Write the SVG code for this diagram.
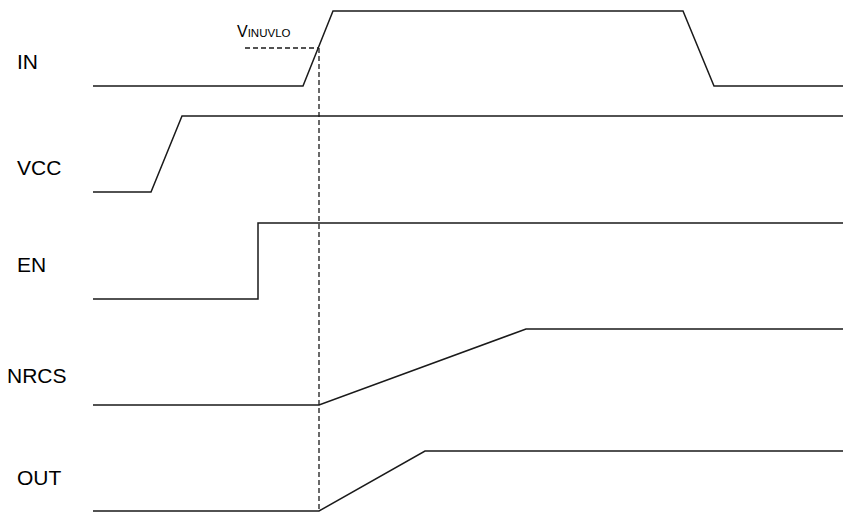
<svg xmlns="http://www.w3.org/2000/svg" width="846" height="519" viewBox="0 0 846 519">
<style>
.sig{fill:none;stroke:#1a1a1a;stroke-width:1.5;stroke-linejoin:miter}
.dash{fill:none;stroke:#1a1a1a;stroke-width:1.3;stroke-dasharray:5,3}
.lbl{font-family:"Liberation Sans",Arial,sans-serif;font-size:21px;fill:#000}
.v{font-family:"Liberation Sans",Arial,sans-serif;font-size:16px;fill:#000}
</style>
<rect width="846" height="519" fill="#fff"/>
<g id="labels">
<text class="lbl" x="17" y="69" font-size="20">IN</text>
<text class="lbl" x="17" y="175">VCC</text>
<text class="lbl" x="17" y="272" font-size="19">EN</text>
<text class="lbl" x="7" y="383" font-size="24">NRCS</text>
<text class="lbl" x="17" y="485">OUT</text>
</g>
<g id="connectors">
<path id="in" class="sig" d="M93,86 H303 L333,11 H683 L714,86 H843"/>
<path id="vcc" class="sig" d="M93,192 H151 L182,116 H843"/>
<path id="en" class="sig" d="M93,299 H258 V223 H843"/>
<path id="nrcs" class="sig" d="M93,405 H319 L526,329 H843"/>
<path id="out" class="sig" d="M93,511 H319 L425,451 H843"/>
<path class="dash" d="M245,48 H319"/>
<path class="dash" d="M319,48 V511"/>
</g>
<g id="vinuvlo">
<text class="v" x="237" y="37">V<tspan font-size="11.5">INUVLO</tspan></text>
</g>
</svg>
